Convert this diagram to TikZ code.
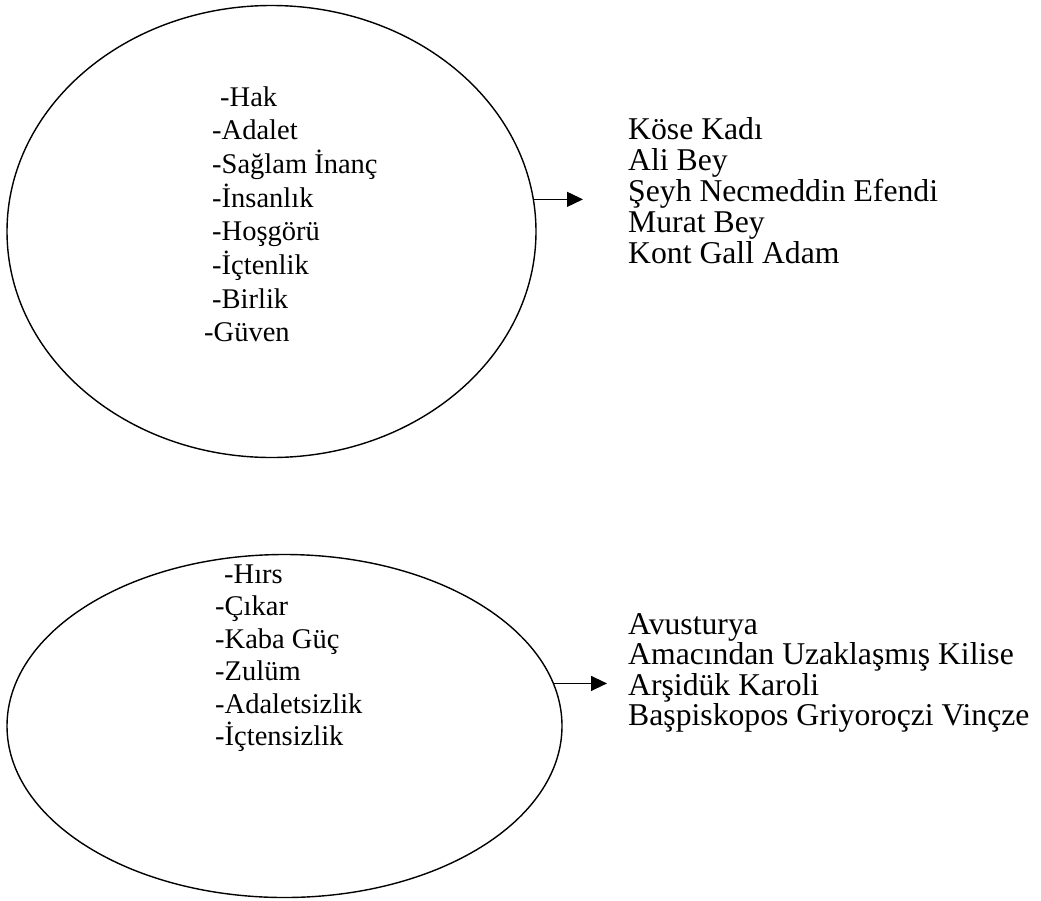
\documentclass[tikz,border=0pt]{standalone}
\usepackage{fontspec}
\setmainfont{Liberation Serif}
\usetikzlibrary{shapes.geometric,arrows.meta}
\begin{document}
\begin{tikzpicture}[x=1pt,y=-1pt,
  oval/.style={ellipse,draw,line width=1.4pt,inner sep=0pt,outer sep=0pt},
  lefttxt/.style={anchor=base west,inner sep=0pt,font=\fontsize{28.5}{33}\selectfont},
  righttxt/.style={anchor=base west,inner sep=0pt,font=\fontsize{31.7}{37}\selectfont},
  conn/.style={line width=1.4pt,-{Triangle[length=16pt,width=15pt]}}]
\useasboundingbox (0,0) rectangle (1041,900);

% top group
\node[oval,minimum width=529pt,minimum height=452pt] (e1) at (271.5,231.5) {};
\node[lefttxt] (a1) at (220,106) {-Hak};
\node[lefttxt] (a2) at (212,139.7) {-Adalet};
\node[lefttxt] (a3) at (212,173.4) {-Sağlam İnanç};
\node[lefttxt] (a4) at (212,207.1) {-İnsanlık};
\node[lefttxt] (a5) at (212,240.8) {-Hoşgörü};
\node[lefttxt] (a6) at (212,274.5) {-İçtenlik};
\node[lefttxt] (a7) at (212,308.2) {-Birlik};
\node[lefttxt] (a8) at (204,341.9) {-Güven};

\node[righttxt] (r1) at (628,139) {Köse Kadı};
\node[righttxt] (r2) at (628,170) {Ali Bey};
\node[righttxt] (r3) at (628,201) {Şeyh Necmeddin Efendi};
\node[righttxt] (r4) at (628,232) {Murat Bey};
\node[righttxt] (r5) at (628,263) {Kont Gall Adam};

\coordinate (t1) at (583,198);
\draw[conn] (e1.7.2) -- (e1.7.2 -| t1);

% bottom group
\node[oval,minimum width=555pt,minimum height=343pt] (e2) at (284.5,726) {};
\node[lefttxt] (b1) at (224,583) {-Hırs};
\node[lefttxt] (b2) at (215,615.5) {-Çıkar};
\node[lefttxt] (b3) at (215,648) {-Kaba Güç};
\node[lefttxt] (b4) at (215,680.5) {-Zulüm};
\node[lefttxt] (b5) at (215,713) {-Adaletsizlik};
\node[lefttxt] (b6) at (215,745.5) {-İçtensizlik};

\node[righttxt] (s1) at (628,634) {Avusturya};
\node[righttxt] (s2) at (628,664.5) {Amacından Uzaklaşmış Kilise};
\node[righttxt] (s3) at (628,695) {Arşidük Karoli};
\node[righttxt] (s4) at (628,725.5) {Başpiskopos Griyoroçzi Vinçze};

\coordinate (t2) at (607,682);
\draw[conn] (e2.9.07) -- (e2.9.07 -| t2);
\end{tikzpicture}
\end{document}
